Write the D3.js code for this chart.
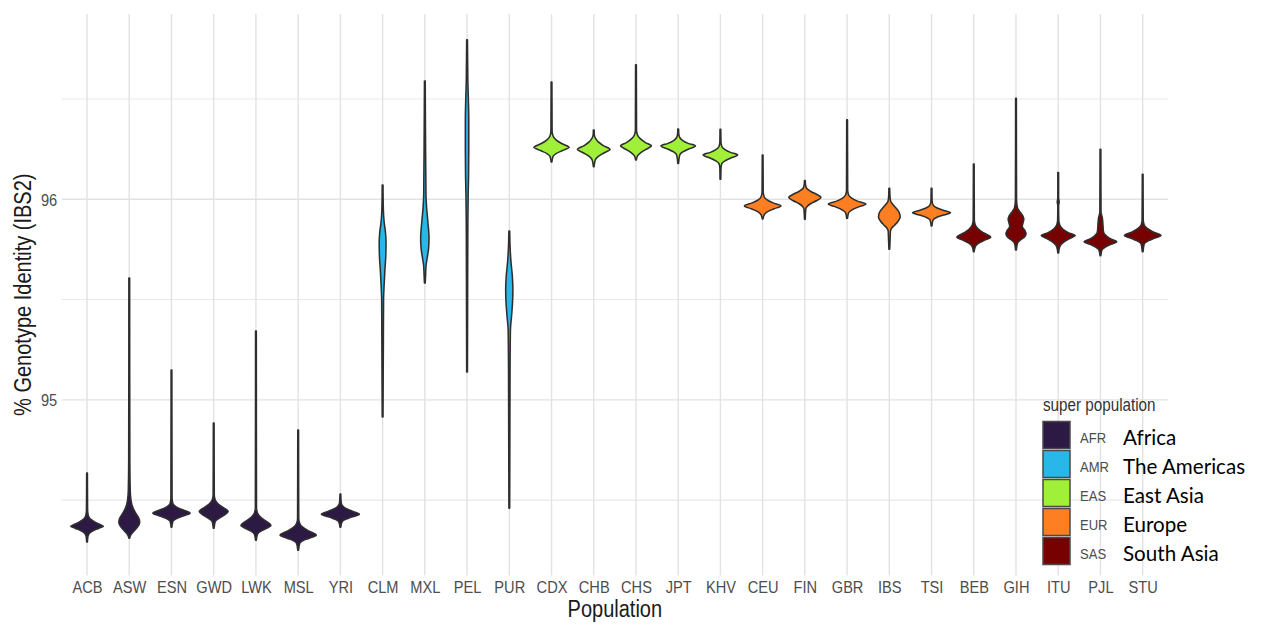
<!DOCTYPE html>
<html><head><meta charset="utf-8">
<script src="https://cdn.jsdelivr.net/npm/d3@7"></script>
<style>body{margin:0;background:#fff}svg{display:block}</style>
</head><body><svg id="chart" width="1267" height="625"></svg>
<script>
// ---------------- DATA ----------------
const populations = ["ACB","ASW","ESN","GWD","LWK","MSL","YRI","CLM","MXL","PEL","PUR","CDX","CHB","CHS","JPT","KHV","CEU","FIN","GBR","IBS","TSI","BEB","GIH","ITU","PJL","STU"];
const superOfPop = ["AFR","AFR","AFR","AFR","AFR","AFR","AFR","AMR","AMR","AMR","AMR","EAS","EAS","EAS","EAS","EAS","EUR","EUR","EUR","EUR","EUR","SAS","SAS","SAS","SAS","SAS"];
const superCodes = ["AFR","AMR","EAS","EUR","SAS"];
const superNames = ["Africa","The Americas","East Asia","Europe","South Asia"];
const superColors = ["#2d1a44","#29b7ea","#a0f03a","#fd7f22","#770000"];
const yMajorTicks = [95, 96];
const yMinorTicks = [94.5, 95.5, 96.5];
const yTickLabels = ["95", "96"];
const xTitle = "Population";
const yTitle = "% Genotype Identity (IBS2)";
const legendTitle = "super population";

// violin density profiles: [value (% IBS2), relative density]
const vACB = [[94.635,0.02],[94.450,0.03],[94.425,0.06],[94.405,0.18],[94.390,0.42],[94.378,0.68],[94.370,0.86],[94.360,0.63],[94.348,0.34],[94.335,0.13],[94.320,0.05],[94.291,0.02]];
const vASW = [[95.608,0.02],[94.700,0.03],[94.550,0.05],[94.500,0.09],[94.465,0.18],[94.435,0.34],[94.410,0.50],[94.390,0.55],[94.370,0.47],[94.350,0.29],[94.333,0.13],[94.320,0.05],[94.310,0.02]];
const vESN = [[95.149,0.02],[94.510,0.03],[94.485,0.07],[94.475,0.13],[94.460,0.37],[94.448,0.68],[94.435,0.98],[94.423,0.68],[94.410,0.32],[94.398,0.11],[94.390,0.06],[94.365,0.02]];
const vGWD = [[94.884,0.02],[94.525,0.03],[94.500,0.08],[94.480,0.24],[94.463,0.50],[94.443,0.76],[94.425,0.55],[94.408,0.26],[94.393,0.08],[94.360,0.02]];
const vLWK = [[95.343,0.02],[94.460,0.03],[94.435,0.08],[94.415,0.24],[94.395,0.53],[94.375,0.79],[94.358,0.53],[94.345,0.26],[94.330,0.08],[94.300,0.02]];
const vMSL = [[94.849,0.02],[94.410,0.03],[94.385,0.08],[94.365,0.24],[94.345,0.58],[94.325,0.95],[94.310,0.58],[94.298,0.26],[94.283,0.08],[94.250,0.02]];
const vYRI = [[94.530,0.02],[94.490,0.04],[94.475,0.09],[94.460,0.26],[94.445,0.63],[94.430,1.00],[94.415,0.58],[94.403,0.24],[94.390,0.08],[94.365,0.02]];
const vCLM = [[96.071,0.02],[95.947,0.04],[95.887,0.08],[95.837,0.15],[95.782,0.18],[95.722,0.17],[95.647,0.12],[95.573,0.08],[95.498,0.05],[95.298,0.04],[95.099,0.03],[94.914,0.02]];
const vMXL = [[96.590,0.02],[96.246,0.04],[96.021,0.06],[95.962,0.09],[95.887,0.16],[95.807,0.22],[95.757,0.20],[95.712,0.13],[95.667,0.06],[95.622,0.04],[95.583,0.02]];
const vPEL = [[96.795,0.02],[96.595,0.04],[96.495,0.07],[96.396,0.09],[96.246,0.09],[96.121,0.08],[96.031,0.06],[95.847,0.04],[95.498,0.03],[95.139,0.02]];
const vPUR = [[95.842,0.02],[95.747,0.05],[95.687,0.09],[95.618,0.16],[95.548,0.19],[95.483,0.17],[95.418,0.12],[95.348,0.06],[95.149,0.04],[94.800,0.03],[94.460,0.02]];
const vCDX = [[96.585,0.02],[96.341,0.03],[96.316,0.08],[96.296,0.24],[96.278,0.53],[96.259,0.93],[96.243,0.58],[96.228,0.24],[96.214,0.08],[96.186,0.02]];
const vCHB = [[96.346,0.02],[96.321,0.03],[96.306,0.08],[96.286,0.24],[96.268,0.50],[96.249,0.86],[96.231,0.53],[96.214,0.24],[96.196,0.08],[96.163,0.02]];
const vCHS = [[96.671,0.02],[96.346,0.03],[96.321,0.08],[96.301,0.24],[96.283,0.50],[96.267,0.81],[96.249,0.53],[96.232,0.24],[96.216,0.08],[96.196,0.02]];
const vJPT = [[96.351,0.02],[96.326,0.03],[96.309,0.08],[96.293,0.24],[96.279,0.53],[96.266,0.91],[96.251,0.55],[96.236,0.24],[96.221,0.08],[96.179,0.02]];
const vKHV = [[96.349,0.02],[96.286,0.03],[96.262,0.08],[96.248,0.24],[96.234,0.53],[96.221,0.91],[96.206,0.55],[96.192,0.24],[96.179,0.08],[96.156,0.03],[96.100,0.02]];
const vCEU = [[96.221,0.02],[96.036,0.03],[96.013,0.08],[95.997,0.24],[95.982,0.55],[95.967,0.96],[95.952,0.58],[95.937,0.24],[95.922,0.08],[95.902,0.02]];
const vFIN = [[96.093,0.02],[96.071,0.04],[96.055,0.09],[96.039,0.32],[96.024,0.63],[96.010,0.85],[95.994,0.63],[95.979,0.32],[95.964,0.12],[95.952,0.05],[95.900,0.02]];
const vGBR = [[96.396,0.02],[96.046,0.03],[96.021,0.08],[96.006,0.24],[95.991,0.55],[95.976,0.99],[95.961,0.58],[95.946,0.24],[95.933,0.08],[95.905,0.02]];
const vIBS = [[96.055,0.02],[96.007,0.04],[95.988,0.08],[95.972,0.21],[95.952,0.39],[95.932,0.53],[95.912,0.57],[95.892,0.47],[95.872,0.29],[95.857,0.13],[95.842,0.06],[95.797,0.04],[95.751,0.02]];
const vTSI = [[96.055,0.02],[95.992,0.03],[95.972,0.08],[95.959,0.24],[95.947,0.58],[95.933,1.00],[95.920,0.58],[95.908,0.24],[95.897,0.08],[95.867,0.02]];
const vBEB = [[96.176,0.02],[95.897,0.03],[95.872,0.08],[95.852,0.24],[95.832,0.53],[95.811,0.89],[95.795,0.55],[95.780,0.24],[95.764,0.08],[95.739,0.02]];
const vGIH = [[96.504,0.02],[95.997,0.03],[95.957,0.08],[95.937,0.21],[95.917,0.36],[95.899,0.41],[95.882,0.37],[95.864,0.33],[95.847,0.45],[95.829,0.53],[95.812,0.45],[95.797,0.24],[95.782,0.08],[95.747,0.02]];
const vITU = [[96.133,0.02],[96.007,0.02],[95.987,0.05],[95.967,0.02],[95.897,0.03],[95.872,0.08],[95.852,0.24],[95.834,0.53],[95.819,0.89],[95.802,0.55],[95.783,0.24],[95.764,0.08],[95.732,0.02]];
const vPJL = [[96.249,0.02],[95.937,0.03],[95.907,0.10],[95.877,0.13],[95.847,0.15],[95.832,0.18],[95.817,0.32],[95.802,0.55],[95.788,0.86],[95.775,0.55],[95.761,0.24],[95.747,0.08],[95.719,0.02]];
const vSTU = [[96.125,0.02],[95.897,0.03],[95.872,0.08],[95.855,0.24],[95.837,0.55],[95.819,0.96],[95.804,0.58],[95.790,0.24],[95.777,0.08],[95.739,0.02]];

const profiles = {ACB:vACB,ASW:vASW,ESN:vESN,GWD:vGWD,LWK:vLWK,MSL:vMSL,YRI:vYRI,CLM:vCLM,MXL:vMXL,PEL:vPEL,PUR:vPUR,CDX:vCDX,CHB:vCHB,CHS:vCHS,JPT:vJPT,KHV:vKHV,CEU:vCEU,FIN:vFIN,GBR:vGBR,IBS:vIBS,TSI:vTSI,BEB:vBEB,GIH:vGIH,ITU:vITU,PJL:vPJL,STU:vSTU};

// ---------------- LAYOUT ----------------
const panel = {left: 61.7, right: 1168, top: 14, bottom: 575.5};
const FONT = "'Liberation Sans', Arial, sans-serif";
const SX = 0.87; // condensed look of the original text

const svg = d3.select("#chart");
svg.append("rect").attr("width",1267).attr("height",625).attr("fill","#fff");

const x = d3.scalePoint().domain(populations).range([panel.left, panel.right]).padding(0.6);
const y = d3.scaleLinear().domain([94.124, 96.924]).range([panel.bottom, panel.top]);
const w = d3.scaleLinear().domain([0, 1]).range([0, 0.45 * x.step()]);
const color = d3.scaleOrdinal().domain(superCodes).range(superColors);

// grid
const grid = svg.append("g");
grid.selectAll("line.minor").data(yMinorTicks).join("line")
  .attr("x1", panel.left).attr("x2", panel.right)
  .attr("y1", d => y(d)).attr("y2", d => y(d))
  .attr("stroke", "#e9e9e9").attr("stroke-width", 1.1);
grid.selectAll("line.major").data(yMajorTicks).join("line")
  .attr("x1", panel.left).attr("x2", panel.right)
  .attr("y1", d => y(d)).attr("y2", d => y(d))
  .attr("stroke", "#e2e2e2").attr("stroke-width", 1.4);
grid.selectAll("line.vx").data(populations).join("line")
  .attr("x1", d => x(d)).attr("x2", d => x(d))
  .attr("y1", panel.top).attr("y2", panel.bottom)
  .attr("stroke", "#e2e2e2").attr("stroke-width", 1.4);

// violins
const vg = svg.append("g");
populations.forEach((p, i) => {
  const cx = x(p);
  const area = d3.area().curve(d3.curveMonotoneY)
    .y(d => y(d[0]))
    .x0(d => cx - w(d[1]))
    .x1(d => cx + w(d[1]));
  vg.append("path").datum(profiles[p])
    .attr("d", area)
    .attr("fill", color(superOfPop[i]))
    .attr("stroke", "#2e2e2e").attr("stroke-width", 1.55)
    .attr("stroke-linejoin", "round");
});

// x axis
const xAxis = svg.append("g").attr("transform", `translate(0,${panel.bottom})`)
  .call(d3.axisBottom(x).tickSize(0));
xAxis.select(".domain").remove();
xAxis.selectAll("text")
  .attr("x", 0).attr("y", 0).attr("dy", null)
  .attr("transform", `translate(0,17.3) scale(${SX},1)`)
  .attr("fill", "#4d4d4d").style("font-family", FONT).style("font-size", "16.8px");

// y axis
const yAxis = svg.append("g").attr("transform", `translate(${panel.left},0)`)
  .call(d3.axisLeft(y).tickValues(yMajorTicks).tickFormat((d, i) => yTickLabels[i]).tickSize(0));
yAxis.select(".domain").remove();
yAxis.selectAll("text")
  .attr("x", 0).attr("y", 0).attr("dy", null)
  .attr("transform", `translate(-4.5,5.8) scale(${SX},1)`)
  .attr("text-anchor", "end")
  .attr("fill", "#4d4d4d").style("font-family", FONT).style("font-size", "16.8px");

// axis titles
svg.append("text").text(xTitle)
  .attr("transform", `translate(${(panel.left + panel.right) / 2},617) scale(${SX},1)`)
  .attr("text-anchor", "middle").attr("fill", "#1a1a1a")
  .style("font-family", FONT).style("font-size", "23px");
svg.append("text").text(yTitle)
  .attr("transform", `translate(31,${(panel.top + panel.bottom) / 2}) rotate(-90) scale(${SX},1)`)
  .attr("text-anchor", "middle").attr("fill", "#1a1a1a")
  .style("font-family", FONT).style("font-size", "23px");

// legend
const lg = svg.append("g");
lg.append("text").text(legendTitle)
  .attr("transform", `translate(1043,411) scale(${SX},1)`)
  .attr("fill", "#333").style("font-family", FONT).style("font-size", "17.5px");
const items = lg.selectAll("g.item").data(superCodes).join("g")
  .attr("transform", (d, i) => `translate(1043,${421.5 + i * 29})`);
items.append("rect").attr("x", 0).attr("y", 0).attr("width", 27).attr("height", 27)
  .attr("fill", d => color(d)).attr("stroke", "#4a4a4a").attr("stroke-width", 1.5);
items.append("text").text(d => d)
  .attr("transform", `translate(37,21) scale(${SX},1)`)
  .attr("fill", "#4d4d4d").style("font-family", FONT).style("font-size", "15px");
items.append("text").text((d, i) => superNames[i])
  .attr("x", 80).attr("y", 23.5)
  .attr("fill", "#000").style("font-family", "Lato, 'Open Sans', sans-serif").style("font-size", "20.6px");
</script>
</body></html>
